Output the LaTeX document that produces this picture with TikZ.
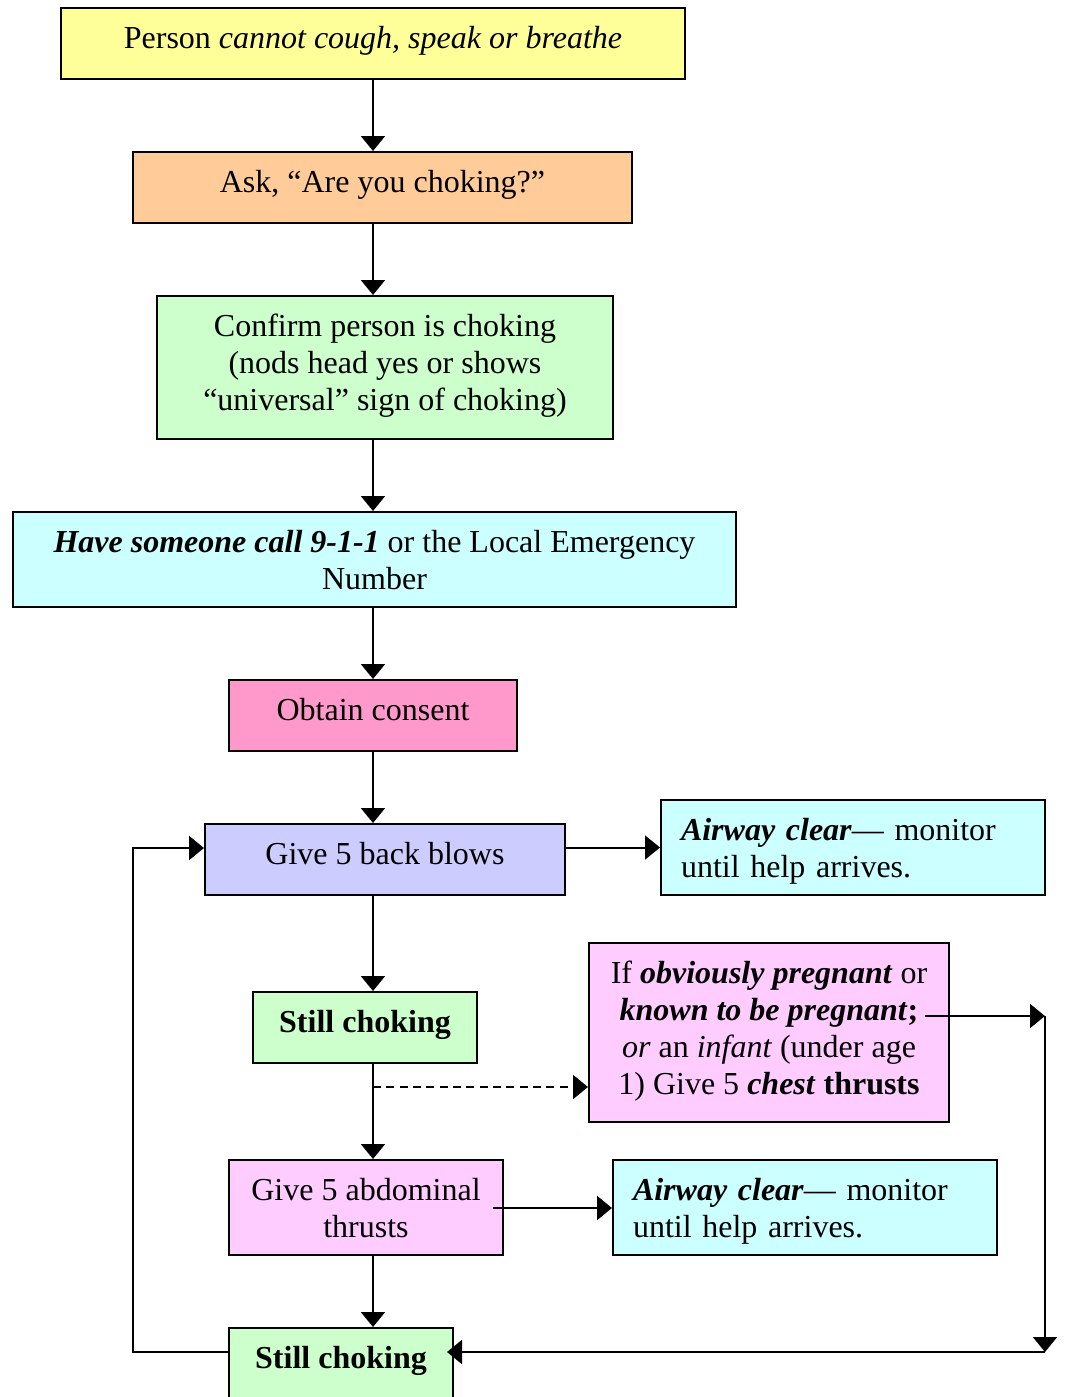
\documentclass[tikz,border=0pt]{standalone}
\usepackage{fontspec}
\setmainfont{Liberation Serif}
\usetikzlibrary{arrows.meta}
\definecolor{cyel}{HTML}{FFFF99}
\definecolor{cora}{HTML}{FFCC99}
\definecolor{cgrn}{HTML}{CCFFCC}
\definecolor{ccya}{HTML}{CCFFFF}
\definecolor{cpnk}{HTML}{FF99CC}
\definecolor{clav}{HTML}{CCCCFF}
\definecolor{clpk}{HTML}{FFCCFF}
\begin{document}
\begin{tikzpicture}[x=0.75pt,y=-0.75pt,
  box/.style n args={4}{draw=black, line width=1.5pt, minimum width=#1*0.75pt, minimum height=#2*0.75pt,
    inner sep=0pt, align=center, font=\fontsize{24pt}{27.75pt}\selectfont,
    text height=#3, text depth=#4},
  arr/.style={line width=1.5pt, -{Triangle[length=11.25pt,width=18pt]}}]
\useasboundingbox (0,0) rectangle (1066,1397);

\node[box={624}{71}{30.5pt}{22.75pt}, fill=cyel] (b1) at (373,43.5) {Person \textit{cannot cough, speak or breathe}};
\node[box={499}{71}{30.5pt}{22.75pt}, fill=cora] (b2) at (382.5,187.5) {Ask, “Are you choking?”};
\node[box={456}{143}{86pt}{21.25pt}, fill=cgrn] (b3) at (385,367.5) {Confirm person is choking\\(nods head yes or shows\\“universal” sign of choking)};
\node[box={723}{95}{58.25pt}{13pt}, fill=ccya] (b4) at (374.5,559.5) {\textbf{\textit{Have someone call 9-1-1}} or the Local Emergency\\Number};
\node[box={288}{71}{30.5pt}{22.75pt}, fill=cpnk] (b5) at (373,715.5) {Obtain consent};
\node[box={360}{71}{30.5pt}{22.75pt}, fill=clav] (b6) at (385,859.5) {Give 5 back blows};
\node[box={384}{95}{30.5pt}{40.75pt}, fill=ccya, align=left, text width=258pt] (b7) at (853,847.5) {\textbf{\textit{Airway clear}}— monitor\\until help arrives.};
\node[box={224}{71}{30.5pt}{22.75pt}, fill=cgrn] (b8) at (365,1027.5) {\textbf{Still choking}};
\node[box={360}{179}{113.75pt}{20.5pt}, fill=clpk] (b9) at (769,1032.5) {If \textbf{\textit{obviously pregnant}} or\\\textbf{\textit{known to be pregnant}}\textbf{;}\\\textit{or} an \textit{infant} (under age\\1) Give 5 \textbf{\textit{chest}} \textbf{thrusts}};
\node[box={274}{95}{58.25pt}{13pt}, fill=clpk] (b10) at (366,1207.5) {Give 5 abdominal\\thrusts};
\node[box={384}{95}{30.5pt}{40.75pt}, fill=ccya, align=left, text width=258pt] (b11) at (805,1207.5) {\textbf{\textit{Airway clear}}— monitor\\until help arrives.};
\node[box={224}{71}{30.5pt}{22.75pt}, fill=cgrn] (b12) at (341,1363.5) {\textbf{Still choking}};

% main spine
\draw[arr] (b1.south) -- (b1.south |- b2.north);
\draw[arr] (b1.south |- b2.south) -- (b1.south |- b3.north);
\draw[arr] (b1.south |- b3.south) -- (b1.south |- b4.north);
\draw[arr] (b1.south |- b4.south) -- (b1.south |- b5.north);
\draw[arr] (b5.south) -- (b5.south |- b6.north);
\draw[arr] (b5.south |- b6.south) -- (b5.south |- b8.north);
\draw[arr] (b5.south |- b8.south) -- (b5.south |- b10.north);
\draw[arr] (b5.south |- b10.south) -- (b5.south |- b12.north);

% side branches
\draw[arr] (b6.east |- b7.west) -- (b7.west);
\coordinate (d1) at (373,1087);
\draw[arr, dash pattern=on 6pt off 4pt] (d1) -- (d1 -| b9.west);
\coordinate (a1) at (493,1208);
\draw[arr] (a1) -- (a1 -| b11.west);

% pregnant branch back to still choking
\coordinate (p1) at (925,1016);
\coordinate (r1) at (1045,1016);
\coordinate (r2) at (1045,1352);
\coordinate (s1) at (447,1352);
\draw[arr] (p1) -- (r1);
\draw[arr] (r1) -- (r2);
\draw[arr] (r2) -- (s1);

% loop back
\coordinate (l1) at (133,1352);
\coordinate (l2) at (133,848);
\draw[arr] (b12.west |- l1) -- (l1) -- (l2) -- (l2 -| b6.west);
\end{tikzpicture}
\end{document}
